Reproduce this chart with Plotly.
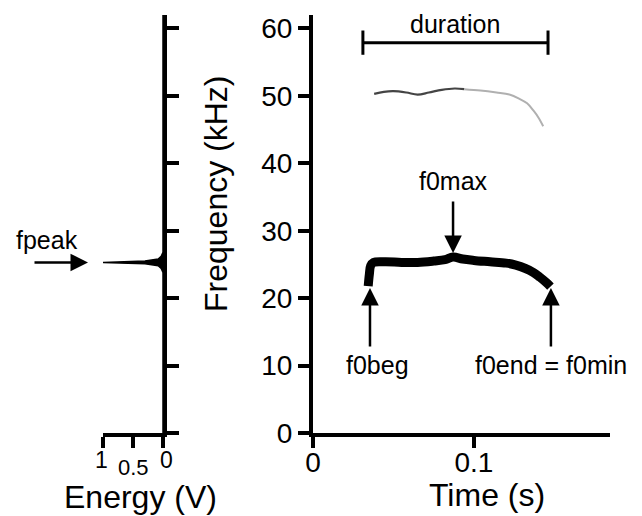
import plotly.graph_objects as go

# ---------------- data ----------------
# energy spectrum (left panel): frequency (kHz) vs energy (V)
spec_freq = [0, 23.8, 24.4, 24.8, 25.1, 25.3, 25.5, 25.8, 26.2, 26.8, 62]
spec_energy = [0, 0, 0.03, 0.08, 0.3, 1.0, 0.3, 0.08, 0.03, 0, 0]

# fundamental contour (right panel)
f0_time = [0.0343, 0.0350, 0.0358, 0.0375, 0.045, 0.055, 0.065, 0.075, 0.082, 0.087,
           0.093, 0.100, 0.110, 0.120, 0.126, 0.132, 0.137, 0.141, 0.145, 0.1475]
f0_freq = [21.8, 23.5, 24.8, 25.3, 25.4, 25.3, 25.3, 25.5, 25.7, 26.1,
           25.8, 25.6, 25.4, 25.2, 24.9, 24.4, 23.8, 23.1, 22.3, 21.7]

# first harmonic (dark and faded parts)
h1_time = [0.038, 0.044, 0.050, 0.058, 0.065, 0.072, 0.080, 0.088, 0.094]
h1_freq = [50.3, 50.6, 50.7, 50.5, 50.2, 50.5, 50.9, 51.1, 51.0]
h1b_time = [0.094, 0.104, 0.114, 0.122, 0.128, 0.133, 0.137, 0.140, 0.143]
h1b_freq = [51.0, 50.8, 50.5, 50.2, 49.6, 48.9, 47.8, 46.8, 45.5]

freq_ticks = [0, 10, 20, 30, 40, 50, 60]
time_ticks = [0, 0.1]
time_ticklabels = ["0", "0.1"]
energy_ticks = [1, 0.5, 0]
energy_ticklabels = ["1", "0.5", "0"]

duration_span = [0.031, 0.146]
duration_level = 57.9
fpeak_freq = 25.3
f0beg_pt = [0.0354, 21.5]
f0end_pt = [0.1478, 21.5]
f0max_pt = [0.087, 26.7]

FONT = "Liberation Sans, Arial, sans-serif"
W, H = 642, 516
OFF = 8  # page body margin


def px(x):
    return (x - OFF) / W


def py(y):
    return 1 - (y - OFF) / H


fig = go.Figure()

fig.add_trace(go.Scatter(x=spec_energy, y=spec_freq, mode="lines", fill="tozerox",
                         fillcolor="black", line=dict(color="black", width=1.5),
                         xaxis="x", yaxis="y", hoverinfo="skip", showlegend=False))

fig.add_trace(go.Scatter(x=h1_time, y=h1_freq, mode="lines",
                         line=dict(color="#444444", width=2.2, shape="spline"),
                         xaxis="x2", yaxis="y2", showlegend=False))
fig.add_trace(go.Scatter(x=h1b_time, y=h1b_freq, mode="lines",
                         line=dict(color="#b0b0b0", width=2, shape="spline"),
                         xaxis="x2", yaxis="y2", showlegend=False))
fig.add_trace(go.Scatter(x=f0_time, y=f0_freq, mode="lines",
                         line=dict(color="black", width=9, shape="spline"),
                         xaxis="x2", yaxis="y2", showlegend=False))

ydom = [py(433), py(15)]
yrange = [0, 62]
axis_common = dict(showline=True, linewidth=4, linecolor="black", ticks="outside",
                   tickwidth=4, tickcolor="black", showgrid=False, zeroline=False,
                   automargin=False,
                   tickfont=dict(family=FONT, size=28, color="black"))

fig.update_layout(
    width=W, height=H,
    margin=dict(l=0, r=0, t=0, b=0, pad=0, autoexpand=False),
    paper_bgcolor="white", plot_bgcolor="white",
    font=dict(family=FONT, color="black"),
    xaxis=dict(domain=[px(103), px(163)], range=[1, 0], anchor="y",
               tickvals=energy_ticks, showticklabels=False, ticklen=11, **axis_common),
    yaxis=dict(domain=ydom, range=yrange, anchor="x", side="right",
               tickvals=freq_ticks, showticklabels=False, ticklen=12, **axis_common),
    xaxis2=dict(domain=[px(313), px(610)], range=[0, 0.1845], anchor="y2",
                tickvals=time_ticks, ticktext=time_ticklabels, ticklen=11,
                ticklabelstandoff=-10, **axis_common),
    yaxis2=dict(domain=ydom, range=yrange, anchor="x2", side="left",
                tickvals=freq_ticks, ticklen=11, **axis_common),
)

# duration bar
for x0, x1, y0, y1 in [
    (duration_span[0], duration_span[1], duration_level, duration_level),
    (duration_span[0], duration_span[0], duration_level - 1.8, duration_level + 1.8),
    (duration_span[1], duration_span[1], duration_level - 1.8, duration_level + 1.8),
]:
    fig.add_shape(type="line", xref="x2", yref="y2", x0=x0, x1=x1, y0=y0, y1=y1,
                  line=dict(color="black", width=3))

ann = []
# axis titles
ann.append(dict(text="Frequency (kHz)", xref="paper", yref="paper", x=px(216), y=py(194),
                textangle=-90, font=dict(size=32)))
ann.append(dict(text="Time (s)", xref="paper", yref="paper", x=px(487), y=py(495),
                font=dict(size=32)))
ann.append(dict(text="Energy (V)", xref="paper", yref="paper", x=px(140), y=py(497),
                font=dict(size=32)))
# energy tick labels (staggered)
ann.append(dict(text=energy_ticklabels[0], xref="paper", yref="paper", x=px(102), y=py(460),
                font=dict(size=23)))
ann.append(dict(text=energy_ticklabels[1], xref="paper", yref="paper", x=px(133), y=py(467),
                font=dict(size=22)))
ann.append(dict(text=energy_ticklabels[2], xref="paper", yref="paper", x=px(166), y=py(460),
                font=dict(size=23)))
# labels
ann.append(dict(text="duration", xref="x2", yref="paper",
                x=(duration_span[0] + duration_span[1]) / 2, y=py(24), font=dict(size=25)))
ann.append(dict(text="f0max", xref="x2", yref="paper", x=f0max_pt[0], y=py(181),
                font=dict(size=25)))
ann.append(dict(text="f0beg", xref="x2", yref="paper", x=f0beg_pt[0] + 0.0045, y=py(365),
                font=dict(size=25)))
ann.append(dict(text="f0end = f0min", xref="x2", yref="paper", x=f0end_pt[0], y=py(365),
                font=dict(size=25)))
ann.append(dict(text="fpeak", xref="paper", yref="paper", x=px(47), y=py(240),
                font=dict(size=25)))
for a in ann:
    a.setdefault("showarrow", False)
    a["xanchor"] = "center"
    a["yanchor"] = "middle"
    a["font"] = dict(family=FONT, color="black", size=a["font"]["size"])

arrow_style = dict(showarrow=True, arrowhead=2, arrowsize=1.4, arrowwidth=2.5,
                   arrowcolor="black", text="", axref="pixel", ayref="pixel")
ann.append(dict(xref="x2", yref="y2", x=f0beg_pt[0], y=f0beg_pt[1], ax=0, ay=60, **arrow_style))
ann.append(dict(xref="x2", yref="y2", x=f0end_pt[0], y=f0end_pt[1], ax=0, ay=60, **arrow_style))
ann.append(dict(xref="x2", yref="y2", x=f0max_pt[0], y=f0max_pt[1], ax=0, ay=-53, **arrow_style))
ann.append(dict(xref="paper", yref="y", x=px(88), y=fpeak_freq, ax=-55, ay=0, **arrow_style))

fig.update_layout(annotations=ann)

fig.write_html("out.html")
